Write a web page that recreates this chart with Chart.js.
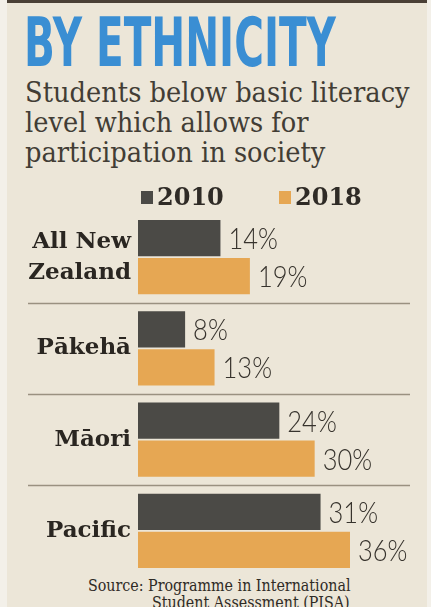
<!DOCTYPE html>
<html>
<head>
<meta charset="utf-8">
<script src="https://cdn.jsdelivr.net/npm/chart.js@4.4.1/dist/chart.umd.min.js"></script>
<style>
  html, body { margin: 0; padding: 0; }
  body { width: 431px; height: 607px; background: #f3f0e9; position: relative; overflow: hidden; }
  #panel { position: absolute; left: 7px; top: 0; width: 420px; height: 607px; background: #ece6d8; border-top: 3px solid #4a4036; box-sizing: border-box; }
  .txt { position: absolute; white-space: nowrap; display: inline-block; }
  #title { left: 24px; top: 9px; font: bold 68px/68px "DejaVu Sans", sans-serif; color: #3a8ed3; transform-origin: 0 0; }
  .sub { left: 25px; font: 27px/30px "DejaVu Serif", serif; color: #423d35; transform-origin: 0 0; }
  .src { right: 81px; font: 16px/17px "DejaVu Serif", serif; color: #2f2b26; transform-origin: 100% 0; }
  #chart { position: absolute; left: 0; top: 0; }
</style>
</head>
<body>
<div id="panel"></div>
<div class="txt" id="title">BY ETHNICITY</div>
<div class="txt sub" id="sub1" style="top:78px">Students below basic literacy</div>
<div class="txt sub" id="sub2" style="top:108px">level which allows for</div>
<div class="txt sub" id="sub3" style="top:138px">participation in society</div>
<div class="txt src" id="src1" style="top:577px">Source: Programme in International</div>
<div class="txt src" id="src2" style="top:594px">Student Assessment (PISA)</div>
<canvas id="chart" width="431" height="607"></canvas>
<script>
const categories = [["All New", "Zealand"], "Pākehā", "Māori", "Pacific"];
const years = ["2010", "2018"];
const values2010 = [14, 8, 24, 31];
const values2018 = [19, 13, 30, 36];

// squeeze text to the widths in the print
const title = document.getElementById("title");
title.style.transform = "scaleX(" + (312 / title.offsetWidth) + ")";
const subK = 385 / document.getElementById("sub1").offsetWidth;
["sub1", "sub2", "sub3"].forEach(id => document.getElementById(id).style.transform = "scaleX(" + subK + ")");
const srcK = 263 / document.getElementById("src1").offsetWidth;
["src1", "src2"].forEach(id => document.getElementById(id).style.transform = "scaleX(" + srcK + ")");

const separators = {
    id: "separators",
    beforeDatasetsDraw(chart) {
        const y = chart.scales.y;
        const ctx = chart.ctx;
        ctx.save();
        ctx.strokeStyle = "#9a9181";
        ctx.lineWidth = 1.5;
        for (let i = 0; i < categories.length - 1; i++) {
            const py = Math.round((y.getPixelForValue(i) + y.getPixelForValue(i + 1)) / 2) + 0.5;
            ctx.beginPath();
            ctx.moveTo(28, py);
            ctx.lineTo(410, py);
            ctx.stroke();
        }
        ctx.restore();
    }
};

const valueLabels = {
    id: "valueLabels",
    afterDatasetsDraw(chart) {
        const ctx = chart.ctx;
        ctx.save();
        ctx.fillStyle = "#37332d";
        ctx.font = "300 30px Lato, 'Open Sans', sans-serif";
        ctx.textBaseline = "alphabetic";
        chart.data.datasets.forEach((ds, di) => {
            chart.getDatasetMeta(di).data.forEach((bar, i) => {
                ctx.save();
                ctx.translate(bar.x + 8, bar.y + 11);
                ctx.scale(0.85, 1);
                ctx.fillText(ds.data[i] + "%", 0, 0);
                ctx.restore();
            });
        });
        ctx.restore();
    }
};

const legendRow = {
    id: "legendRow",
    afterDraw(chart) {
        const ctx = chart.ctx;
        const left = chart.chartArea.left;
        const xs = [left + 3, left + 141];
        ctx.save();
        ctx.font = "bold 24px 'DejaVu Serif', serif";
        ctx.textBaseline = "alphabetic";
        chart.data.datasets.forEach((ds, i) => {
            ctx.fillStyle = ds.backgroundColor;
            ctx.fillRect(xs[i], 191, 12, 13);
            ctx.fillStyle = "#2f2b26";
            ctx.fillText(ds.label, xs[i] + 16, 205);
        });
        ctx.restore();
    }
};

new Chart(document.getElementById("chart"), {
    type: "bar",
    data: {
        labels: categories,
        datasets: [
            { label: years[0], data: values2010, backgroundColor: "#4b4a46" },
            { label: years[1], data: values2018, backgroundColor: "#e6a753" }
        ]
    },
    options: {
        indexAxis: "y",
        responsive: false,
        animation: false,
        categoryPercentage: 0.833,
        barPercentage: 0.95,
        layout: { padding: { top: 211.5, bottom: 30.5, left: 0, right: 28 } },
        scales: {
            x: { display: false, min: 0, max: 45 },
            y: {
                afterFit(scale) {
                    scale.width = 138;
                    scale.paddingTop = 0;
                    scale.paddingBottom = 0;
                },
                grid: { display: false, drawTicks: false },
                border: { display: false },
                ticks: {
                    padding: 7,
                    color: "#2a2621",
                    font: { family: "'DejaVu Serif', serif", weight: "bold", size: 23, lineHeight: 1.35 }
                }
            }
        },
        plugins: {
            legend: { display: false },
            tooltip: { enabled: false }
        }
    },
    plugins: [separators, valueLabels, legendRow]
});
</script>
</body>
</html>
